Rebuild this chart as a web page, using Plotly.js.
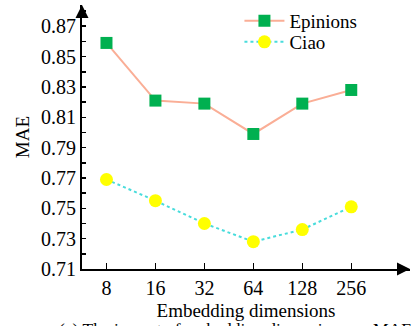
<!DOCTYPE html>
<html>
<head>
<meta charset="utf-8">
<script src="https://cdn.plot.ly/plotly-3.0.1.min.js"></script>
<style>html,body{margin:0;padding:0;background:#fff;}#chart{width:413px;height:326px;}</style>
</head>
<body>
<div id="chart"></div>
<script>
const dims = ["8", "16", "32", "64", "128", "256"];
const epinions = [0.859, 0.821, 0.819, 0.799, 0.819, 0.828];
const ciao = [0.769, 0.755, 0.740, 0.728, 0.736, 0.751];
const yTicks = [0.71, 0.73, 0.75, 0.77, 0.79, 0.81, 0.83, 0.85, 0.87];

const font = "Liberation Serif";

const traces = [
  {
    x: dims, y: epinions, name: "Epinions", type: "scatter", mode: "lines+markers",
    line: {color: "#FAAE96", width: 2},
    marker: {symbol: "square", size: 12, color: "#00B050"},
    legend: "legend"
  },
  {
    x: dims, y: ciao, name: "Ciao", type: "scatter", mode: "lines+markers",
    line: {color: "#48DCDC", width: 2, dash: "dot"},
    marker: {symbol: "circle", size: 13, color: "#FFFF00"},
    legend: "legend2"
  }
];

const legendBase = {xanchor: "left", yanchor: "top", bgcolor: "rgba(0,0,0,0)",
  font: {family: font, size: 19}, itemwidth: 40};

const layout = {
  width: 413, height: 326,
  margin: {l: 82, r: 3, t: 5, b: 57, autoexpand: false},
  paper_bgcolor: "#fff", plot_bgcolor: "#fff",
  font: {family: font, size: 19, color: "#000"},
  showlegend: true,
  legend: Object.assign({x: 0.48, y: 1.012}, legendBase),
  legend2: Object.assign({x: 0.48, y: 0.932}, legendBase),
  xaxis: {
    type: "category", range: [-0.5, 6.2], automargin: false,
    showline: true, linecolor: "#000", linewidth: 2,
    ticks: "inside", ticklen: 6, tickwidth: 1.5, tickcolor: "#000",
    showgrid: false, zeroline: false,
    tickfont: {family: font, size: 20},
    title: {text: "Embedding dimensions", font: {family: font, size: 19}, standoff: 6}
  },
  yaxis: {
    range: [0.71, 0.884], automargin: false,
    tickvals: yTicks, ticktext: yTicks.map(v => v.toFixed(2)),
    showline: true, linecolor: "#000", linewidth: 2,
    ticks: "inside", ticklen: 4, tickwidth: 1.5, tickcolor: "#000",
    minor: {dtick: 0.01, tick0: 0.71, ticks: "inside", ticklen: 4, tickwidth: 1.5, tickcolor: "#000", showgrid: false},
    showgrid: false, zeroline: false,
    tickfont: {family: font, size: 20},
    title: {text: "MAE", font: {family: font, size: 19}, standoff: 6}
  },
  annotations: [
    {xref: "paper", yref: "paper", x: 0, y: 1.0, ax: 0, ay: 14, text: "", showarrow: true,
     arrowhead: 2, arrowsize: 1.3, arrowwidth: 2, arrowcolor: "#000"},
    {xref: "paper", yref: "paper", x: 1.0, y: 0, ax: -14, ay: 0, text: "", showarrow: true,
     arrowhead: 2, arrowsize: 1.3, arrowwidth: 2, arrowcolor: "#000"},
    {xref: "paper", yref: "paper", x: -0.076, y: -0.182, xanchor: "left", yanchor: "top",
     text: "(a) The impact of embedding dimensions on MAE", showarrow: false,
     font: {family: font, size: 17.5}}
  ]
};

Plotly.newPlot("chart", traces, layout, {displayModeBar: false, staticPlot: true});
</script>
</body>
</html>
